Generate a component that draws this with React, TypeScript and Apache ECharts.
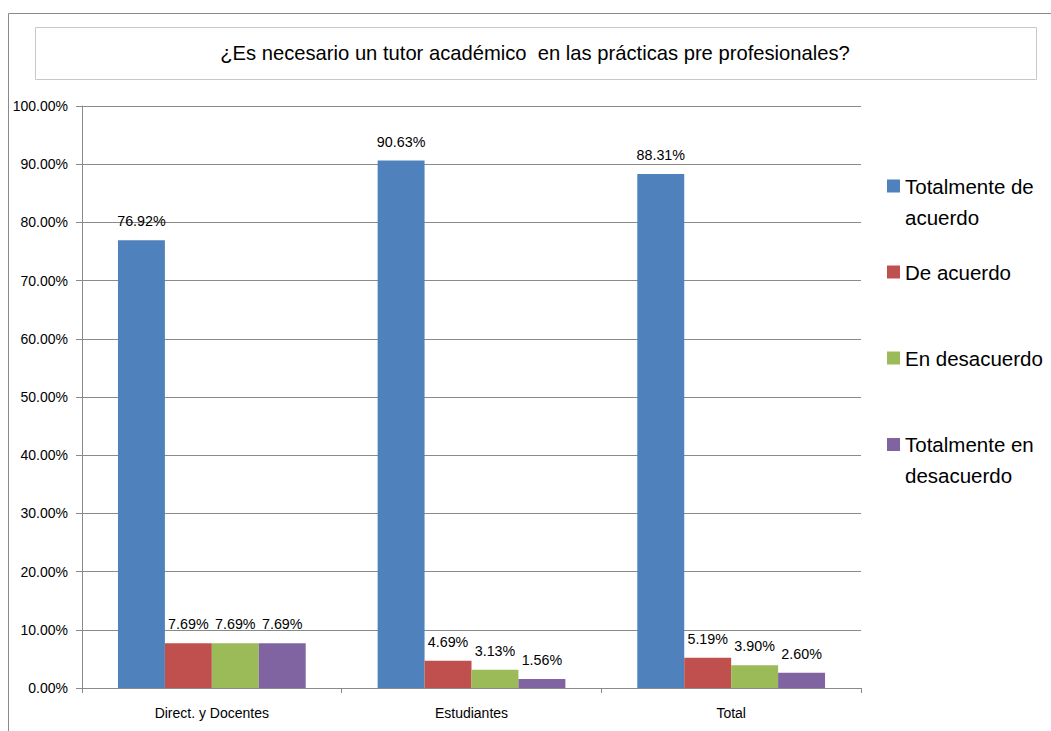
import React, { useEffect, useRef } from "react";
import * as echarts from "echarts";

const categories = ["Direct. y Docentes", "Estudiantes", "Total"];
const seriesNames = ["Totalmente de acuerdo", "De acuerdo", "En desacuerdo", "Totalmente en desacuerdo"];
const legendLabels = ["\nTotalmente de\nacuerdo", "De acuerdo", "En desacuerdo", "\nTotalmente en\ndesacuerdo"];
const totalmenteDeAcuerdo = [76.92, 90.63, 88.31];
const deAcuerdo = [7.69, 4.69, 5.19];
const enDesacuerdo = [7.69, 3.13, 3.9];
const totalmenteEnDesacuerdo = [7.69, 1.56, 2.6];
const colors = ["#4F81BD", "#C0504D", "#9BBB59", "#8064A2"];
const titleText = "¿Es necesario un tutor académico  en las prácticas pre profesionales?";

const FONT = "'Liberation Sans', Arial, sans-serif";

export default function App() {
  const ref = useRef<HTMLDivElement>(null);
  useEffect(() => {
    if (!ref.current) return;
    const chart = echarts.init(ref.current, null, { renderer: "svg" });
    const values = [totalmenteDeAcuerdo, deAcuerdo, enDesacuerdo, totalmenteEnDesacuerdo];
    const legendTops = [139.5, 256.5, 342.5, 398];
    chart.setOption({
      animation: false,
      textStyle: { fontFamily: FONT },
      graphic: [
        { type: "line", shape: { x1: 8.5, y1: 13.5, x2: 1051, y2: 13.5 }, style: { stroke: "#8a8a8a", lineWidth: 1 } },
        { type: "line", shape: { x1: 8.5, y1: 13.5, x2: 8.5, y2: 731 }, style: { stroke: "#8a8a8a", lineWidth: 1 } },
        { type: "rect", shape: { x: 35.5, y: 27.5, width: 1001, height: 52 }, style: { fill: "#fff", stroke: "#c8c8c8", lineWidth: 1 } },
        {
          type: "text",
          x: 535,
          y: 53,
          style: { text: titleText, fontSize: 20.2, fontFamily: FONT, fill: "#000", align: "center", verticalAlign: "middle" },
        },
      ],
      grid: { left: 82, right: 190, top: 106, bottom: 43 },
      legend: seriesNames.map((n, i) => ({
        data: [n],
        orient: "vertical",
        left: 887,
        top: legendTops[i],
        padding: 0,
        itemWidth: 13,
        itemHeight: 13,
        icon: "rect",
        itemGap: 0,
        formatter: () => legendLabels[i],
        textStyle: {
          fontSize: 20.5,
          fontFamily: FONT,
          color: "#000",
          lineHeight: 31,
        },
        selectedMode: false,
      })),
      xAxis: {
        type: "category",
        data: categories,
        axisLine: { lineStyle: { color: "#8a8a8a" } },
        axisTick: { show: true, length: 5, lineStyle: { color: "#8a8a8a" } },
        axisLabel: { fontSize: 14, color: "#000", margin: 18, fontFamily: FONT },
      },
      yAxis: {
        type: "value",
        min: 0,
        max: 100,
        interval: 10,
        axisLine: { show: true, lineStyle: { color: "#8a8a8a" } },
        axisTick: { show: true, inside: false, length: 6, lineStyle: { color: "#8a8a8a" } },
        axisLabel: { fontSize: 14, color: "#000", margin: 14, fontFamily: FONT, formatter: (v: number) => v.toFixed(2) + "%" },
        splitLine: { lineStyle: { color: "#8a8a8a" } },
      },
      series: seriesNames.map((n, i) => ({
        name: n,
        type: "bar",
        data: values[i],
        barGap: "0%",
        barCategoryGap: "27.7%",
        itemStyle: { color: colors[i] },
        label: {
          show: true,
          position: "top",
          distance: 12,
          fontSize: 14.3,
          color: "#000",
          fontFamily: FONT,
          formatter: (p: any) => Number(p.value).toFixed(2) + "%",
        },
      })),
    });
    return () => chart.dispose();
  }, []);
  return <div ref={ref} style={{ width: 1051, height: 731, position: "absolute", left: 0, top: 0 }} />;
}
